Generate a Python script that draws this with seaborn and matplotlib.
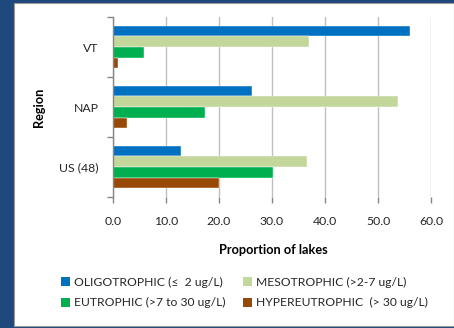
import matplotlib
matplotlib.use("Agg")
import matplotlib.pyplot as plt
from matplotlib.patches import Patch, Rectangle
from matplotlib.ticker import FixedLocator, FormatStrFormatter
import seaborn as sns
import pandas as pd

regions = ["VT", "NAP", "US (48)"]
classes = [
    "OLIGOTROPHIC (\u2264  2 ug/L)",
    "MESOTROPHIC (>2-7 ug/L)",
    "EUTROPHIC (>7 to 30 ug/L)",
    "HYPEREUTROPHIC  (> 30 ug/L)",
]
oligotrophic = [56.0, 26.3, 12.8]
mesotrophic = [37.0, 53.8, 36.6]
eutrophic = [5.9, 17.4, 30.1]
hypereutrophic = [1.0, 2.7, 20.1]
colors = ["#0070C0", "#C4D79B", "#00B050", "#984807"]

rows = []
for cls, vals in zip(classes, [oligotrophic, mesotrophic, eutrophic, hypereutrophic]):
    for reg, v in zip(regions, vals):
        rows.append({"Region": reg, "Class": cls, "Proportion": v})
df = pd.DataFrame(rows)

sns.set_theme(style="white")
plt.rcParams["font.family"] = ["Lato", "DejaVu Sans"]

fig = plt.figure(figsize=(4.54, 3.28), dpi=100)
fig.patch.set_facecolor("#1F497D")
# white slide panel behind the chart
panel = Rectangle((14 / 454, 2 / 328), 1 - 14 / 454, 1 - 5 / 328,
                  transform=fig.transFigure, facecolor="white",
                  edgecolor="#9A9A9A", linewidth=0.8, zorder=-10)
fig.patches.append(panel)

ax = fig.add_axes([112.7 / 454, 1 - 197 / 328, (431.3 - 112.7) / 454, 180 / 328])
ax.set_zorder(5)
ax.set_facecolor("none")

sns.barplot(data=df, y="Region", x="Proportion", hue="Class", order=regions,
            hue_order=classes, palette=colors, orient="h", width=0.71,
            gap=0, dodge=True, ax=ax, legend=False, saturation=1,
            edgecolor="white", linewidth=0.3)

ax.set_xlim(0, 60)
ax.set_ylim(2.5, -0.5)
ax.set_xticks([0, 10, 20, 30, 40, 50, 60])
ax.xaxis.set_major_formatter(FormatStrFormatter("%.1f"))
ax.xaxis.grid(True, color="#BFBFBF", linewidth=1.0)
ax.set_axisbelow(True)

for s in ["top", "right", "bottom"]:
    ax.spines[s].set_visible(False)
ax.spines["left"].set_color("#868686")
ax.spines["left"].set_linewidth(1.0)

ax.yaxis.set_minor_locator(FixedLocator([-0.5, 0.5, 1.5, 2.5]))
ax.tick_params(axis="y", which="major", length=0, pad=10, labelsize=8.8, labelcolor="#262626")
ax.tick_params(axis="y", which="minor", length=4, width=1, color="#868686", left=True)
ax.tick_params(axis="x", which="major", length=4, width=1, color="#868686",
               bottom=True, pad=9.5, labelsize=8.8, labelcolor="#262626")

ax.set_ylabel("Region", fontsize=9.2, fontweight="bold", color="black")
ax.yaxis.set_label_coords(-0.212, 0.5)
ax.set_xlabel("Proportion of lakes", fontsize=9.2, fontweight="bold", color="black")
ax.xaxis.set_label_coords(0.503, -0.26)

# legend filled column by column, so order handles to read row by row
handles = [Patch(facecolor=c, edgecolor="none", label=l) for c, l in zip(colors, classes)]
handles = [handles[0], handles[2], handles[1], handles[3]]
leg = fig.legend(handles=handles, ncol=2, loc="center left",
                 bbox_to_anchor=(50 / 454, 1 - 292.5 / 328), frameon=False,
                 fontsize=8.7, handlelength=0.75, handleheight=0.75, handletextpad=0.3,
                 columnspacing=1.5, labelspacing=0.8, labelcolor="#262626")
leg.set_zorder(6)

fig.savefig("out.png", dpi=100)
